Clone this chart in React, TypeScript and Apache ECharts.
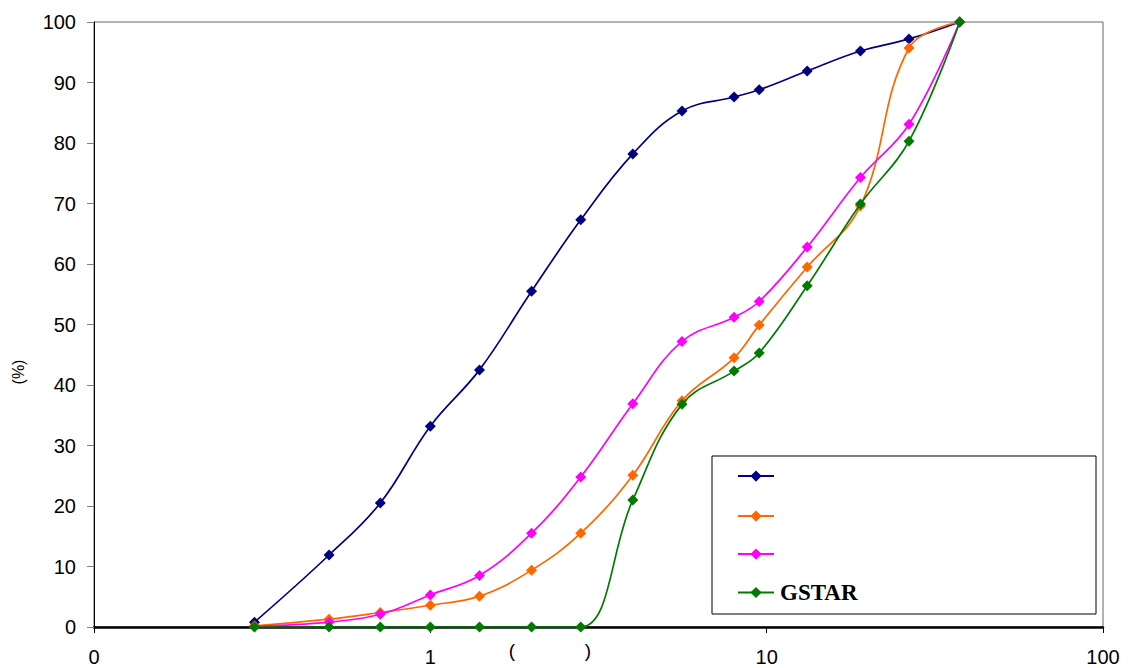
import React, { useEffect, useRef } from "react";
import * as echarts from "echarts";

const sizes = [0.3, 0.5, 0.71, 1, 1.4, 2, 2.8, 4, 5.6, 8, 9.5, 13.2, 19, 26.5, 37.5];
const seriesNames = ["S1", "S2", "S3", "GSTAR"];
const legendLabels = ["", "", "", "GSTAR"];
const blueValues = [0.8, 11.9, 20.5, 33.2, 42.5, 55.5, 67.3, 78.2, 85.3, 87.6, 88.8, 91.9, 95.2, 97.2, 100];
const orangeValues = [0.2, 1.3, 2.4, 3.6, 5.1, 9.4, 15.5, 25.1, 37.4, 44.5, 49.9, 59.5, 69.6, 95.7, 100];
const pinkValues = [0.1, 0.8, 2.1, 5.3, 8.5, 15.5, 24.8, 36.9, 47.2, 51.2, 53.8, 62.8, 74.3, 83.1, 100];
const greenValues = [0, 0, 0, 0, 0, 0, 0, 21.0, 36.8, 42.3, 45.3, 56.4, 69.9, 80.3, 100];
const colors = ["#000080", "#FF6600", "#FF00FF", "#007A00"];
const yTicks = { min: 0, max: 100, interval: 10 };
const xRange = { min: 0.1, max: 100 };
const legendTops = [470.5, 510.5, 548.5, 581];

export default function App() {
  const ref = useRef<HTMLDivElement>(null);
  useEffect(() => {
    if (!ref.current) return;
    const chart = echarts.init(ref.current, null, { renderer: "svg" });
    const valuesList = [blueValues, orangeValues, pinkValues, greenValues];
    const series = valuesList.map((vals, i) => ({
      name: seriesNames[i],
      type: "line",
      data: sizes.map((s, j) => [s, vals[j]]),
      smooth: 0.4,
      symbol: "diamond",
      symbolSize: 11,
      clip: i !== 3,
      lineStyle: { color: colors[i], width: 1.7 },
      itemStyle: { color: colors[i] },
      z: 2 + i,
    }));
    const legends = seriesNames.map((name, i) => ({
      orient: "vertical",
      left: 737,
      top: legendTops[i],
      itemWidth: 36,
      itemHeight: 14,
      padding: 0,
      data: [name],
      formatter: () => legendLabels[i],
      textStyle: {
        color: "#000000",
        fontSize: 23,
        lineHeight: 14,
        fontWeight: "bold",
        fontFamily: "Liberation Serif, Times New Roman, serif",
        padding: [0, 0, 0, 1],
      },
      z: 10,
    }));
    chart.setOption({
      animation: false,
      backgroundColor: "#ffffff",
      grid: {
        left: 94,
        right: 26,
        top: 22,
        bottom: 41,
        show: true,
        borderColor: "#666666",
        borderWidth: 1,
        backgroundColor: "transparent",
      },
      xAxis: {
        type: "log",
        logBase: 10,
        min: xRange.min,
        max: xRange.max,
        axisLine: { lineStyle: { color: "#000000", width: 2.5 } },
        axisTick: { show: true, length: 6, lineStyle: { color: "#000000" } },
        minorTick: { show: false },
        splitLine: { show: false },
        axisLabel: {
          color: "#000000",
          fontSize: 20,
          fontFamily: "Liberation Sans, Arial, sans-serif",
          margin: 20,
          formatter: (v: number) => String(Math.round(v)),
        },
      },
      yAxis: {
        type: "value",
        min: yTicks.min,
        max: yTicks.max,
        interval: yTicks.interval,
        axisLine: { show: true, lineStyle: { color: "#000000", width: 1 } },
        axisTick: { show: true, length: 7, lineStyle: { color: "#808080" } },
        splitLine: { show: false },
        axisLabel: {
          color: "#000000",
          fontSize: 20,
          fontFamily: "Liberation Sans, Arial, sans-serif",
          margin: 18,
        },
      },
      legend: legends,
      graphic: [
        {
          type: "rect",
          shape: { x: 712, y: 456, width: 384, height: 158 },
          style: { fill: "#ffffff", stroke: "#000000", lineWidth: 1 },
          z: 8,
        },
        {
          type: "text",
          x: 18,
          y: 372,
          rotation: Math.PI / 2,
          style: {
            text: "(%)",
            fontSize: 16,
            fontFamily: "Liberation Sans, Arial, sans-serif",
            fill: "#000000",
            textAlign: "center",
            textVerticalAlign: "middle",
          },
        },
        {
          type: "text",
          x: 512,
          y: 650,
          style: {
            text: "(",
            fontSize: 19,
            fontFamily: "Liberation Sans, Arial, sans-serif",
            fill: "#000000",
            textAlign: "center",
            textVerticalAlign: "middle",
          },
        },
        {
          type: "text",
          x: 588,
          y: 650,
          style: {
            text: ")",
            fontSize: 19,
            fontFamily: "Liberation Sans, Arial, sans-serif",
            fill: "#000000",
            textAlign: "center",
            textVerticalAlign: "middle",
          },
        },
      ],
      series,
    });
    return () => chart.dispose();
  }, []);
  return (
    <div
      ref={ref}
      style={{ position: "fixed", left: 0, top: 0, width: 1129, height: 668, background: "#fff" }}
    />
  );
}
